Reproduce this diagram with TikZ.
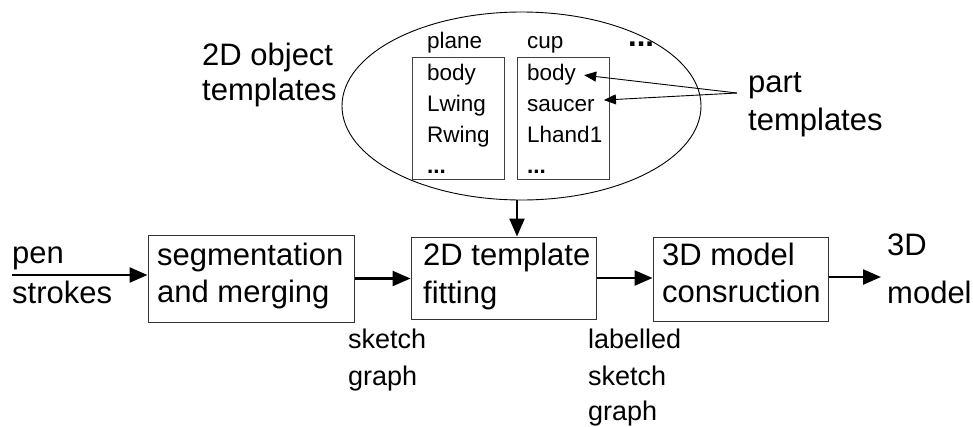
\documentclass[tikz,border=0pt]{standalone}
\usepackage{fontspec}
\setmainfont{Liberation Sans}
\usetikzlibrary{shapes.geometric,arrows.meta,calc}
\begin{document}
\begin{tikzpicture}[x=1pt,y=-1pt,
  big/.style={font=\fontsize{31}{36}\selectfont, inner sep=0, anchor=base west},
  mid/.style={font=\fontsize{27}{32}\selectfont, inner sep=0, anchor=base west},
  small/.style={font=\fontsize{22.5}{27}\selectfont, inner sep=0, anchor=base west},
  procbox/.style={draw=black!80, line width=1, inner sep=0},
  listbox/.style={draw=black!75, line width=1, inner sep=0, minimum width=92, minimum height=122},
  flow/.style={line width=2.4, -{Triangle[length=18,width=15]}},
  pointer/.style={line width=0.9, -{Triangle[length=12,width=10]}}]
\useasboundingbox (0,0) rectangle (973,426);

% template library
\node[draw, ellipse, line width=0.9, minimum width=359, minimum height=188, inner sep=0] (tpl) at (521.5,106) {};
\node[listbox] (planebox) at (458,118) {};
\node[listbox] (cupbox) at (563,118) {};

\node[big] (objA) at (202,65) {2D object};
\node[big] (objB) at (202,100) {templates};

\node[small] (plane) at (427,48) {plane};
\node[small] (cup) at (527,48) {cup};
\node[big] (more) at (628,46) {\bfseries ...};

\node[small] (pbody) at (427,80) {body};
\node[small] (plwing) at (427,111) {Lwing};
\node[small] (prwing) at (427,142) {Rwing};
\node[small] (pdots) at (427,173) {\bfseries ...};

\node[small] (cbody) at (527,80) {body};
\node[small] (csaucer) at (527,111) {saucer};
\node[small] (chand) at (527,142) {Lhand1};
\node[small] (cdots) at (527,173) {\bfseries ...};

\node[big] (partA) at (748,92) {part};
\node[big] (partB) at (748,130) {templates};
\coordinate (ptsrc) at (737,93);
\draw[pointer] (ptsrc) -- ($(cbody.east)+(8,1)$);
\draw[pointer] (ptsrc) -- ($(csaucer.east)+(9,-5)$);

% processing pipeline
\node[procbox, minimum width=206, minimum height=87] (seg) at (251,278.5) {};
\node[procbox, minimum width=185, minimum height=82] (fit) at (503.5,278) {};
\node[procbox, minimum width=175, minimum height=84] (rec) at (740.5,279) {};

\node[big] (segA) at (157,265) {segmentation};
\node[big] (segB) at (157,302) {and merging};
\node[big] (fitA) at (423,265) {2D template};
\node[big] (fitB) at (423,303) {fitting};
\node[big] (recA) at (662,265) {3D model};
\node[big] (recB) at (662,302) {consruction};

\node[big] (penA) at (12,263) {pen};
\node[big] (penB) at (12,303) {strokes};
\node[big] (outA) at (887,255) {3D};
\node[big] (outB) at (887,303) {model};

\node[mid] (sgA) at (348,348) {sketch};
\node[mid] (sgB) at (348,385) {graph};
\node[mid] (lsgA) at (588,348) {labelled};
\node[mid] (lsgB) at (588,385) {sketch};
\node[mid] (lsgC) at (588,420) {graph};

% connectors
\coordinate (penin) at (12,275);
\coordinate (modout) at (881,277);
\coordinate (drop) at (517,0);
\draw[flow] (penin) -- (penin -| seg.west);
\draw[flow] (seg.east) -- (seg.east -| fit.west);
\draw[flow] (fit.east) -- (fit.east -| rec.west);
\draw[flow] (rec.east |- modout) -- (modout);
\draw[flow] (tpl.south -| drop) -- (fit.north -| drop);
\end{tikzpicture}
\end{document}
